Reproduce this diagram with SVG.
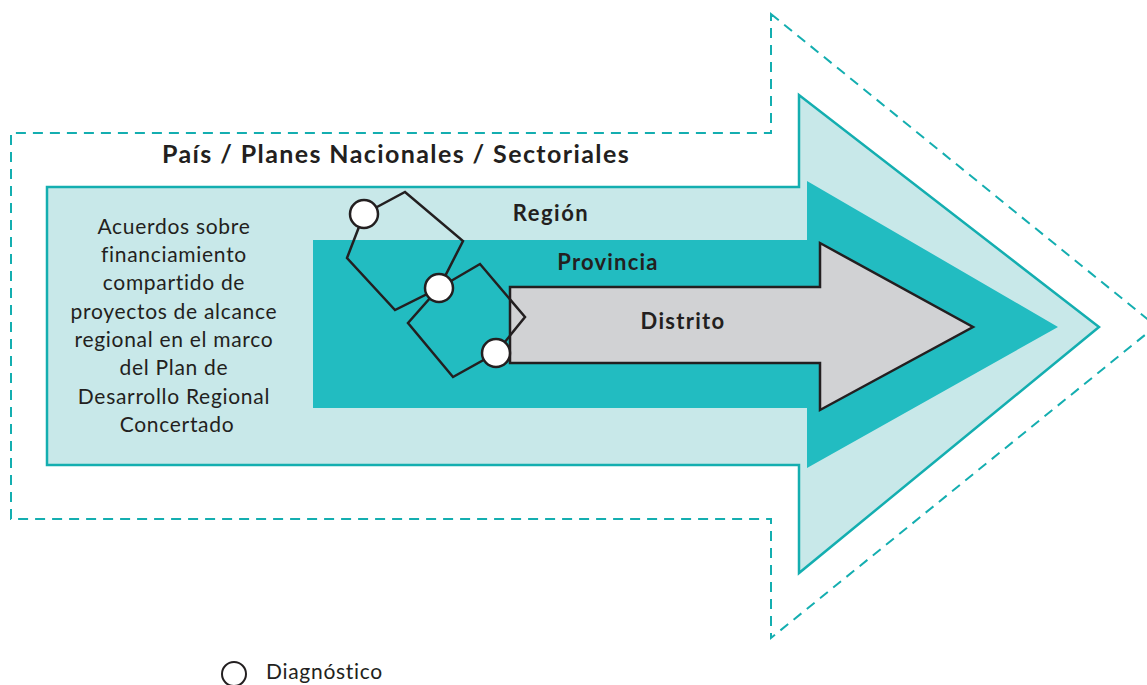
<svg xmlns="http://www.w3.org/2000/svg" width="1147" height="685" viewBox="0 0 1147 685">
<style>
.t{font-family:Lato,"Liberation Sans",sans-serif;fill:#231f20}
.b{font-weight:bold}
.hex{fill:none;stroke:#231f20;stroke-width:2.5;stroke-linejoin:miter}
.node{fill:#fff;stroke:#231f20;stroke-width:2.5}
</style>
<rect width="1147" height="685" fill="#fff"/>
<g id="pais">
<path d="M771,14 L1156,326 L771,638 L771,519 L11,519 L11,133 L771,133 Z" fill="none" stroke="#14aeb0" stroke-width="2" stroke-dasharray="10,7"/>
<text class="t b" x="396" y="163" font-size="25" letter-spacing="1.4" text-anchor="middle">País / Planes Nacionales / Sectoriales</text>
</g>
<g id="region">
<path d="M47,187 L799,187 L799,95 L1099,327 L799,573 L799,465 L47,465 Z" fill="#c8e8e9" stroke="#14aeb0" stroke-width="2.5"/>
<text class="t b" x="551" y="221" font-size="22" letter-spacing="1.5" text-anchor="middle">Región</text>
<text class="t" font-size="21" letter-spacing="0.7" text-anchor="middle">
<tspan x="177" y="234">Acuerdos sobre</tspan>
<tspan x="177" y="262">financiamiento</tspan>
<tspan x="177" y="290">compartido de</tspan>
<tspan x="177" y="319">proyectos de alcance</tspan>
<tspan x="177" y="347">regional en el marco</tspan>
<tspan x="177" y="375">del Plan de</tspan>
<tspan x="177" y="404">Desarrollo Regional</tspan>
<tspan x="177" y="432">Concertado</tspan>
</text>
</g>
<g id="provincia">
<path d="M313,240 L807,240 L807,181 L1058,327 L807,468 L807,408 L313,408 Z" fill="#22bcc1"/>
<text class="t b" x="608" y="270" font-size="22" letter-spacing="1.2" text-anchor="middle">Provincia</text>
</g>
<g id="distrito">
<path d="M510,287 L820,287 L820,243 L973,327 L820,410 L820,363 L510,363 Z" fill="#d1d2d4" stroke="#231f20" stroke-width="2.5"/>
<text class="t b" x="683" y="329" font-size="22" letter-spacing="1.3" text-anchor="middle">Distrito</text>
</g>
<g id="connectors">
<path class="hex" d="M364,214 L405,192 L463,241 L439,288 L395,310 L347,258 Z"/>
<path class="hex" d="M439,288 L480,264 L525,317 L496,353 L453,377 L408,323 Z"/>
</g>
<g id="diagnostico1"><circle class="node" cx="364" cy="214" r="14"/></g>
<g id="diagnostico2"><circle class="node" cx="439" cy="288" r="14"/></g>
<g id="diagnostico3"><circle class="node" cx="496" cy="353" r="14"/></g>
<g id="legend">
<circle cx="234" cy="674" r="12" fill="#fff" stroke="#231f20" stroke-width="2"/>
<text class="t" x="266" y="679" font-size="21" letter-spacing="0.7">Diagnóstico</text>
</g>
</svg>
